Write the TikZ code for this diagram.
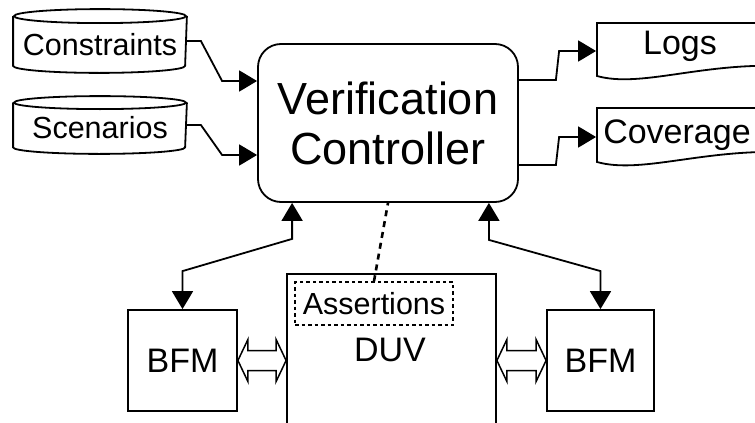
\documentclass[tikz,border=0pt]{standalone}
\usepackage{fontspec}
\setmainfont{Liberation Sans}
\usetikzlibrary{arrows.meta,calc}
\begin{document}
\begin{tikzpicture}[x=1pt,y=-1pt,line width=1.8pt,
  tip/.style={-{Triangle[length=18pt,width=21pt]}},
  bothtips/.style={{Triangle[length=18pt,width=21pt]}-{Triangle[length=18pt,width=21pt]}},
  plainbox/.style={draw,rectangle,inner sep=0pt},
  ghost/.style={rectangle,inner sep=0pt},
  bigfont/.style={font=\fontsize{45}{50}\selectfont},
  midfont/.style={font=\fontsize{34}{40}\selectfont},
  smallfont/.style={font=\fontsize{30.5}{35}\selectfont},
  hollow/.style={line width=1.5pt,fill=white}]
\useasboundingbox (0,0) rectangle (755,423);
\clip (0,0) rectangle (755,423);

% cylinders
\node[ghost,minimum width=172pt,minimum height=62pt] (cons) at (100,41) {};
\draw ($(cons.north west)+(0,7)$) -- ($(cons.south west)+(0,-7)$)
  arc[start angle=180,end angle=360,x radius=86pt,y radius=7pt]
  -- ($(cons.north east)+(0,7)$);
\draw ($(cons.north)+(0,7)$) ellipse[x radius=86pt,y radius=7pt];
\node[smallfont] (consT) at (100,45) {Constraints};

\node[ghost,minimum width=172pt,minimum height=56pt] (scen) at (100,125) {};
\draw ($(scen.north west)+(0,6.5)$) -- ($(scen.south west)+(0,-6.5)$)
  arc[start angle=180,end angle=360,x radius=86pt,y radius=6.5pt]
  -- ($(scen.north east)+(0,6.5)$);
\draw ($(scen.north)+(0,6.5)$) ellipse[x radius=86pt,y radius=6.5pt];
\node[smallfont] (scenT) at (100,127.5) {Scenarios};

% controller
\node[draw,rounded corners=23pt,minimum width=260pt,minimum height=158pt,
  align=center,bigfont,inner sep=0pt] (vc) at (388,123) {Verification\\Controller};

% documents
\node[ghost,minimum width=184pt,minimum height=56pt] (logs) at (689,51) {};
\draw (597,23) -- (597,76) .. controls (640,88) and (700,63) .. (781,66) -- (781,23) -- cycle;
\node[midfont] (logsT) at (680,46) {Logs};

\node[ghost,minimum width=184pt,minimum height=58pt] (cov) at (689,137) {};
\draw (597,108) -- (597,162) .. controls (640,174) and (700,150) .. (781,152) -- (781,108) -- cycle;
\node[midfont] (covT) at (677,135) {Coverage};

% input / output connectors
\draw[tip] (cons.east) -- ++(14,0) -- ($(vc.west)+(-35,-42)$) -- ($(vc.west)+(0,-42)$);
\draw[tip] (scen.east) -- ++(14,0) -- ($(vc.west)+(-35,32)$) -- ($(vc.west)+(0,32)$);
\draw[tip] ($(vc.east)+(0,-43)$) -- ++(37,0) -- ($(logs.west)+(-37,0)$) -- (logs.west);
\draw[tip] ($(vc.east)+(0,42)$) -- ++(37,0) -- ($(cov.west)+(-37,0)$) -- (cov.west);

% DUV and BFMs
\node[plainbox,minimum width=209pt,minimum height=170pt] (duv) at (391.5,359) {};
\node[midfont] (duvT) at (390,350) {DUV};
\node[draw,dash pattern=on 3.5pt off 3pt,line width=1.6pt,minimum width=158pt,
  minimum height=43pt,smallfont,inner sep=0pt] (asr) at (374,303.5) {Assertions};

\node[plainbox,minimum width=109pt,minimum height=101pt,midfont] (bfmL) at (182.5,360.5) {BFM};
\node[plainbox,minimum width=107pt,minimum height=101pt,midfont] (bfmR) at (600.5,360.5) {BFM};

\draw[bothtips] (bfmL.north) -- ++(0,-38) -- ($(vc.south west)+(35,36)$) -- ($(vc.south west)+(35,0)$);
\draw[bothtips] (bfmR.north) -- ++(0,-38) -- ($(vc.south east)+(-30,37)$) -- ($(vc.south east)+(-30,0)$);

\draw[line width=2.6pt,dash pattern=on 6pt off 5pt] (asr.north) -- (vc.south);

% hollow double arrows
\coordinate (dl1) at (bfmL.east);
\coordinate (dl2) at (duv.west |- bfmL.east);
\draw[hollow] (dl1) -- ++(10,-21) -- ++(0,11) -- ($(dl2)+(-10,-10)$) -- ++(0,-11) -- (dl2)
  -- ++(-10,21) -- ++(0,-11) -- ($(dl1)+(10,10)$) -- ++(0,11) -- cycle;
\coordinate (dr1) at (duv.east |- bfmR.west);
\coordinate (dr2) at (bfmR.west);
\draw[hollow] (dr1) -- ++(10,-21) -- ++(0,11) -- ($(dr2)+(-10,-10)$) -- ++(0,-11) -- (dr2)
  -- ++(-10,21) -- ++(0,-11) -- ($(dr1)+(10,10)$) -- ++(0,11) -- cycle;
\end{tikzpicture}
\end{document}
